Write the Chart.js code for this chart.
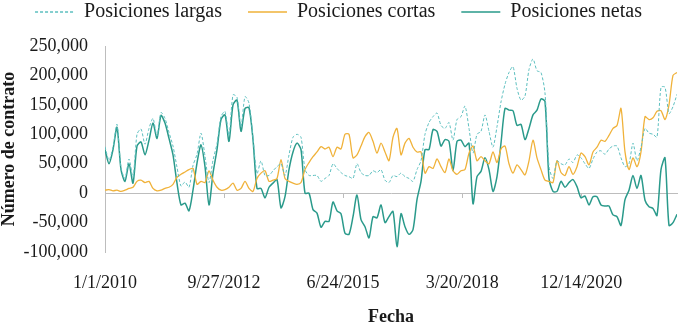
<!DOCTYPE html>
<html>
<head>
<meta charset="utf-8">
<script src="https://cdn.jsdelivr.net/npm/chart.js@4.4.1/dist/chart.umd.min.js"></script>
<style>
  html, body { margin: 0; padding: 0; background: #fff; }
  #wrap { width: 678px; height: 328px; position: relative; }
</style>
</head>
<body>
<div id="wrap"><canvas id="grafico" width="678" height="328"></canvas></div>
<script>
// Valores (contratos), una muestra cada ~33.6 días desde 1/1/2010
const PASO_DIAS = 33.6;

const largas = [
  79000, 56000, 78000, 117000, 43000, 25000, 58000, 27000, 100000, 109000, 83000, 110000,
  127000, 97000, 137000, 127000, 103000, 80000, 44000, 12000, 19000, 10000, 47000, 66000,
  102000, 63000, 18000, 56000, 84000, 130000, 139000, 98000, 167000, 163000, 113000, 164000,
  153000, 94000, 33000, 55000, 30000, 30000, 38000, 45000, 50000, 30000, 65000, 95000,
  100000, 95000, 40000, 30000, 30000, 30000, 20000, 25000, 30000, 50000, 42000, 35000,
  30000, 28000, 25000, 50000, 35000, 30000, 30000, 38000, 35000, 40000, 22000, 18000,
  30000, 28000, 34000, 28000, 25000, 20000, 40000, 55000, 100000, 120000, 130000, 136000,
  115000, 110000, 120000, 90000, 125000, 130000, 148000, 110000, 68000, 100000, 105000, 133000,
  105000, 78000, 113000, 155000, 185000, 205000, 215000, 178000, 158000, 165000, 210000, 228000,
  208000, 205000, 170000, 45000, 25000, 55000, 50000, 48000, 58000, 52000, 65000, 60000,
  50000, 42000, 58000, 70000, 72000, 66000, 75000, 80000, 80000, 60000, 45000, 50000,
  85000, 55000, 78000, 110000, 102000, 100000, 95000, 180000, 180000, 135000, 147000, 168000
];

const cortas = [
  5000, 6000, 4000, 5000, 3000, 5000, 8000, 10000, 20000, 22000, 18000, 20000,
  8000, 4000, 5000, 8000, 10000, 15000, 27000, 32000, 36000, 40000, 42000, 15000,
  20000, 18000, 38000, 22000, 10000, 5000, 6000, 10000, 17000, 5000, 8000, 20000,
  8000, 3000, 25000, 34000, 38000, 20000, 22000, 25000, 57000, 25000, 20000, 17000,
  15000, 18000, 40000, 52000, 62000, 70000, 79000, 75000, 78000, 62000, 78000, 75000,
  100000, 100000, 60000, 65000, 80000, 96000, 103000, 88000, 68000, 85000, 70000, 55000,
  95000, 110000, 65000, 85000, 93000, 78000, 70000, 70000, 34000, 45000, 42000, 58000,
  45000, 35000, 58000, 38000, 32000, 38000, 40000, 68000, 80000, 55000, 62000, 55000,
  50000, 70000, 52000, 75000, 80000, 50000, 34000, 48000, 40000, 31000, 55000, 90000,
  60000, 40000, 22000, 20000, 18000, 55000, 35000, 30000, 45000, 32000, 45000, 68000,
  62000, 48000, 70000, 78000, 90000, 88000, 98000, 110000, 115000, 144000, 70000, 40000,
  60000, 45000, 70000, 130000, 125000, 128000, 139000, 140000, 125000, 150000, 200000, 205000
];

const netas = [
  74000, 50000, 74000, 112000, 40000, 20000, 50000, 17000, 80000, 87000, 65000, 90000,
  119000, 93000, 132000, 119000, 93000, 65000, 17000, -20000, -17000, -30000, 5000, 51000,
  82000, 45000, -20000, 34000, 74000, 125000, 133000, 88000, 150000, 158000, 105000, 144000,
  145000, 91000, 8000, 8000, -8000, 10000, 17000, 23000, -25000, -6000, 40000, 70000,
  85000, 74000, 0, 0, -28000, -34000, -58000, -48000, -48000, -15000, -30000, -35000,
  -68000, -70000, -40000, -3000, -45000, -57000, -76000, -40000, -42000, -20000, -50000, -40000,
  -31000, -91000, -35000, -57000, -70000, -62000, -11000, 20000, 74000, 74000, 108000, 105000,
  80000, 91000, 88000, 38000, 88000, 90000, 79000, 85000, -18000, 28000, 37000, 60000,
  40000, 3000, 28000, 85000, 144000, 141000, 140000, 115000, 117000, 91000, 110000, 133000,
  141000, 160000, 156000, 25000, 3000, 3000, 20000, 10000, 18000, 23000, 11000, -8000,
  -5000, -20000, -6000, -6000, -20000, -22000, -22000, -37000, -40000, -55000, -11000, 5000,
  30000, 8000, 30000, -12000, -23000, -26000, -38000, 40000, 60000, -55000, -50000, -36000
];

// Etiquetas del eje X (una cada 1000 días)
const ticksXDias = [0, 1000, 2000, 3000, 4000];
const etiquetasX = ['1/1/2010', '9/27/2012', '6/24/2015', '3/20/2018', '12/14/2020'];
const ticksY = [-100000, -50000, 0, 50000, 100000, 150000, 200000, 250000];

const dias = netas.map((_, i) => i * PASO_DIAS);
const X_MAX = dias[dias.length - 1];
const puntos = serie => serie.map((v, i) => ({ x: dias[i], y: v }));
const ponerTicksX = s => { s.ticks = ticksXDias.map(v => ({ value: v })); };

Chart.defaults.font.family = "'Liberation Serif', 'Times New Roman', serif";
Chart.defaults.color = '#1a1a1a';

// deja un hueco bajo la leyenda
const espacioLeyenda = {
  id: 'espacioLeyenda',
  beforeInit(chart) {
    const fitOriginal = chart.legend.fit;
    chart.legend.fit = function () {
      fitOriginal.call(this);
      this.height += 14;
    };
  }
};

const ctx = document.getElementById('grafico');
new Chart(ctx, {
  type: 'line',
  data: {
    datasets: [
      {
        label: 'Posiciones largas',
        data: puntos(largas),
        borderColor: '#5cbfbf',
        backgroundColor: '#5cbfbf',
        borderWidth: 1,
        borderDash: [3, 2],
        xAxisID: 'x'
      },
      {
        label: 'Posiciones cortas',
        data: puntos(cortas),
        borderColor: '#f0b23a',
        backgroundColor: '#f0b23a',
        borderWidth: 1.3,
        xAxisID: 'x'
      },
      {
        label: 'Posiciones netas',
        data: puntos(netas),
        borderColor: '#2a9a8b',
        backgroundColor: '#2a9a8b',
        borderWidth: 1.5,
        xAxisID: 'x'
      }
    ]
  },
  options: {
    responsive: false,
    animation: false,
    devicePixelRatio: 1,
    layout: { padding: { top: -24, right: 1, left: 0, bottom: 0 } },
    elements: {
      point: { radius: 0 },
      line: { tension: 0.25 }
    },
    plugins: {
      legend: {
        position: 'top',
        labels: {
          font: { size: 20 },
          boxWidth: 39,
          boxHeight: 0,
          padding: 26
        }
      },
      tooltip: { enabled: false }
    },
    scales: {
      x: {
        type: 'linear',
        position: { y: 0 },
        min: 0,
        max: X_MAX,
        afterBuildTicks: ponerTicksX,
        ticks: { display: false },
        grid: { drawOnChartArea: false, drawTicks: true, tickLength: 4, color: '#bdbdbd' },
        border: { color: '#bdbdbd' }
      },
      xEtiquetas: {
        type: 'linear',
        axis: 'x',
        position: 'bottom',
        min: 0,
        max: X_MAX,
        afterBuildTicks: ponerTicksX,
        afterFit: s => { s.height = 76; },
        ticks: {
          padding: 20,
          maxRotation: 0,
          font: { size: 18 },
          callback: v => etiquetasX[ticksXDias.indexOf(v)] ?? ''
        },
        grid: { display: false, drawTicks: false },
        border: { display: false },
        title: {
          display: true,
          text: 'Fecha',
          font: { size: 18, weight: 'bold' },
          padding: { top: 0, bottom: 0 }
        }
      },
      y: {
        min: -100000,
        max: 250000,
        afterFit: s => { s.width = 105; },
        afterBuildTicks: s => { s.ticks = ticksY.map(v => ({ value: v })); },
        ticks: {
          padding: 17,
          font: { size: 18 },
          callback: v => v.toLocaleString('en-US')
        },
        grid: { display: false, drawTicks: false },
        border: { display: true, color: '#bdbdbd' },
        title: {
          display: true,
          text: 'Número de contrato',
          font: { size: 18, weight: 'bold', lineHeight: 1 },
          padding: 0
        }
      }
    }
  },
  plugins: [espacioLeyenda]
});
</script>
</body>
</html>
